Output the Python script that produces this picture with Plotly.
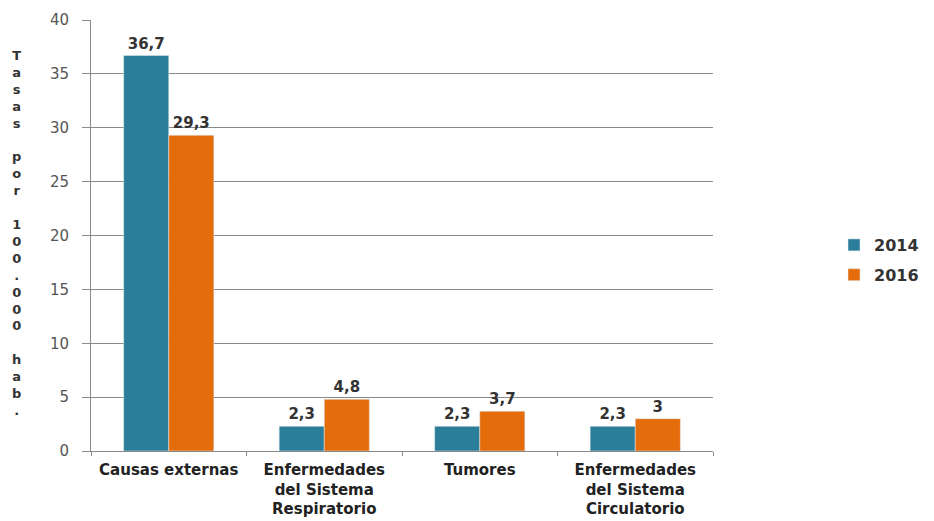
import plotly.graph_objects as go

categories = ["Causas externas", "Enfermedades<br>del Sistema<br>Respiratorio", "Tumores", "Enfermedades<br>del Sistema<br>Circulatorio"]
values_2014 = [36.7, 2.3, 2.3, 2.3]
values_2016 = [29.3, 4.8, 3.7, 3]
labels_2014 = ["36,7", "2,3", "2,3", "2,3"]
labels_2016 = ["29,3", "4,8", "3,7", "3"]
y_title = "Tasas por 100.000 hab."

label_font = dict(size=15, color="#333333", family="DejaVu Sans", weight="bold")

fig = go.Figure()
fig.add_trace(go.Bar(name="2014", x=categories, y=values_2014, text=labels_2014,
                     textposition="outside", marker_color="#2B7E99", legendgroup="a",
                     textfont=label_font, cliponaxis=False))
fig.add_trace(go.Bar(name="2016", x=categories, y=values_2016, text=labels_2016,
                     textposition="outside", marker_color="#E46C0A", legendgroup="b",
                     textfont=label_font, cliponaxis=False))

vertical = "<br>".join(y_title)
fig.add_annotation(text=vertical, xref="paper", yref="paper", x=(16 - 91) / 622, y=0.506,
                   showarrow=False, font=dict(size=13, color="#333333", family="DejaVu Sans", weight="bold"),
                   align="center", xanchor="center", yanchor="middle")

fig.update_layout(
    width=934, height=521,
    margin=dict(l=91, r=221, t=20, b=70),
    paper_bgcolor="white", plot_bgcolor="white",
    barmode="group", bargap=0.42, bargroupgap=0,
    font=dict(family="DejaVu Sans", color="#333333"),
    legend=dict(xref="container", yref="container", x=834 / 934, y=1 - 260 / 521,
                xanchor="left", yanchor="middle",
                font=dict(size=16, color="#333333", weight="bold"), tracegroupgap=6,
                itemwidth=30),
)
fig.update_yaxes(range=[0, 40], dtick=5, showgrid=True, gridcolor="#8a8a8a", gridwidth=1,
                 showline=True, linecolor="#8a8a8a", ticks="outside", ticklen=8, tickcolor="#8a8a8a",
                 ticklabelstandoff=10, automargin=False,
                 tickfont=dict(size=15, color="#555555"), zeroline=False)
fig.update_xaxes(showline=True, linecolor="#8a8a8a", ticks="outside", tickcolor="#8a8a8a", ticklen=4,
                 tickson="boundaries", ticklabelstandoff=5, automargin=False,
                 tickfont=dict(size=15, color="#222222", weight="bold"))

fig.write_html("out.html")
